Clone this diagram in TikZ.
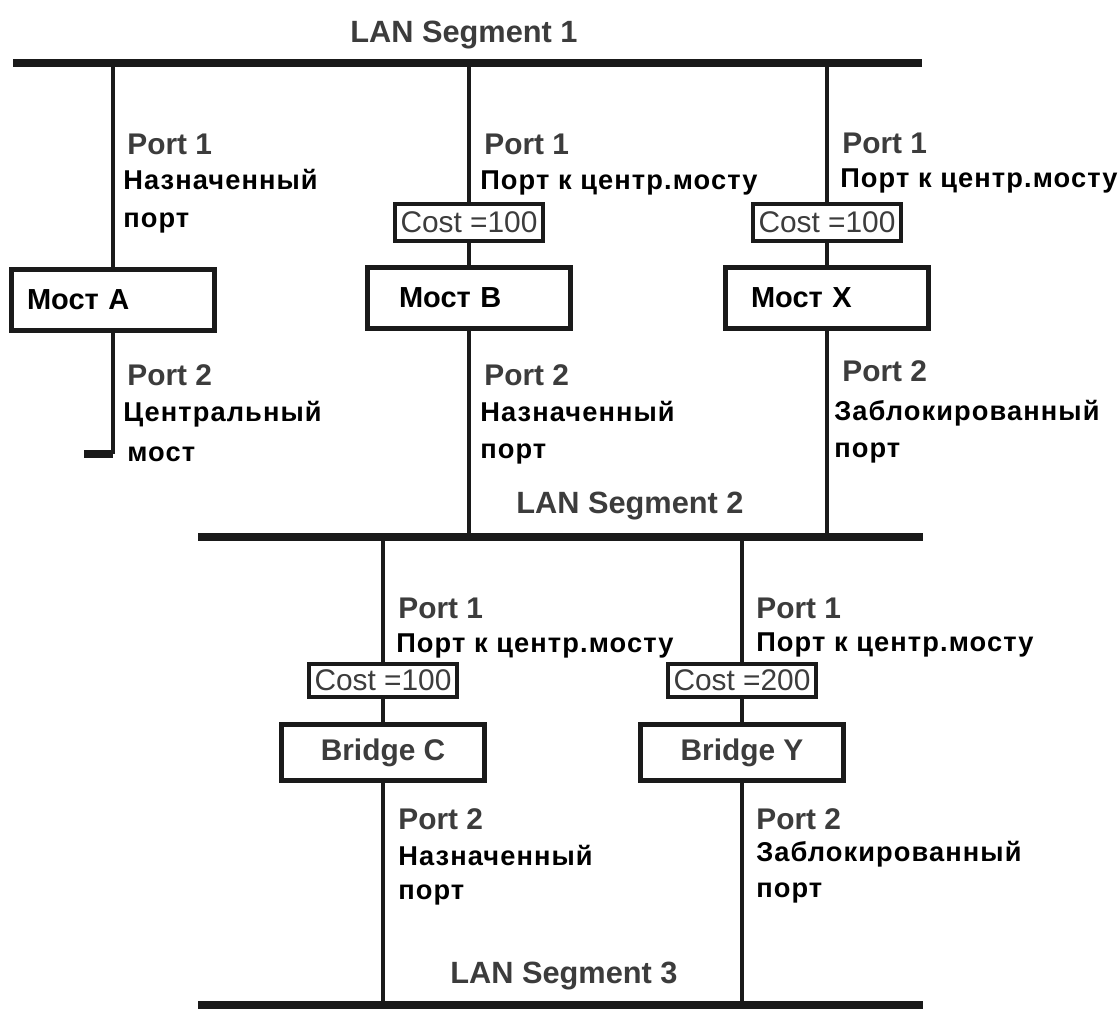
\documentclass[tikz,border=0pt]{standalone}
\usepackage{fontspec}
\setmainfont{Liberation Sans}
\newfontfamily\rufont[LetterSpace=4]{Liberation Sans}
\usetikzlibrary{positioning, calc}

\definecolor{linecol}{HTML}{1A1A1A}
\definecolor{textgray}{HTML}{3C3C3C}

\tikzset{
  segline/.style={line width=4pt, linecol},
  dropline/.style={line width=2.8pt, linecol},
  bridgebox/.style={draw=linecol, line width=2.8pt, minimum width=4.06cm, minimum height=1.22cm, inner ysep=0pt},
  mostname/.style={font=\fontsize{16.5}{18}\selectfont\bfseries, align=left},
  bridgename/.style={font=\fontsize{17}{19}\selectfont\bfseries, text=textgray, minimum height=1.12cm},
  costbox/.style={draw=linecol, line width=2.3pt, minimum width=2.96cm, minimum height=0.74cm, inner sep=0pt, font=\fontsize{17}{19}\selectfont, text=textgray},
  portlbl/.style={anchor=base west, inner sep=0pt, font=\fontsize{17}{19}\selectfont\bfseries, text=textgray},
  rulbl/.style={anchor=base west, inner sep=0pt, font=\rufont\bfseries\fontsize{15.5}{17}\selectfont},
  seglbl/.style={anchor=base west, inner sep=0pt, font=\fontsize{17.5}{19}\selectfont\bfseries, text=textgray}
}

\begin{document}
\begin{tikzpicture}[x=0.02cm, y=-0.02cm]
    \useasboundingbox (0,0) rectangle (1120,1011);

    % LAN segments
    \coordinate (s1w) at (13,63);   \coordinate (s1e) at (922,63);
    \coordinate (s2w) at (198,537); \coordinate (s2e) at (923,537);
    \coordinate (s3w) at (198,1005); \coordinate (s3e) at (923,1005);
    \draw[segline] (s1w) -- (s1e);
    \draw[segline] (s2w) -- (s2e);
    \draw[segline] (s3w) -- (s3e);
    \node[seglbl] (seg1) at (350,42) {LAN Segment 1};
    \node[seglbl] (seg2) at (516,513) {LAN Segment 2};
    \node[seglbl] (seg3) at (450,983) {LAN Segment 3};

    % taps on the segments
    \coordinate (tapA) at (113,63);
    \coordinate (tapB1) at (469,63);  \coordinate (tapB2) at (469,537);
    \coordinate (tapX1) at (827,63);  \coordinate (tapX2) at (827,537);
    \coordinate (tapC1) at (383,537); \coordinate (tapC2) at (383,1005);
    \coordinate (tapY1) at (742,537); \coordinate (tapY2) at (742,1005);
    \coordinate (endA) at (113,454);  \coordinate (stubA) at (84,454);

    % bridges and costs
    \node[bridgebox, mostname, inner xsep=0.31cm, text width=3.44cm] (mostA) at (113,300) {Мост A};
    \node[bridgebox, mostname, inner xsep=0.63cm, text width=2.8cm] (mostB) at (469,298) {Мост B};
    \node[bridgebox, mostname, inner xsep=0.51cm, text width=3.04cm] (mostX) at (827,298) {Мост X};
    \node[bridgebox, bridgename] (bridgeC) at (383,752.5) {Bridge C};
    \node[bridgebox, bridgename] (bridgeY) at (742,752.5) {Bridge Y};

    \node[costbox] (costB) at (469,222.5) {Cost =100};
    \node[costbox] (costX) at (827,222.5) {Cost =100};
    \node[costbox, minimum height=0.66cm] (costC) at (383,680.5) {Cost =100};
    \node[costbox, minimum height=0.66cm] (costY) at (742,680.5) {Cost =200};

    % links
    \draw[dropline] (tapA) -- (mostA.north);
    \draw[dropline] (mostA.south) -- (endA);
    \draw[segline] (stubA) -- (endA);
    \draw[dropline] (tapB1) -- (costB.north);
    \draw[dropline] (costB.south) -- (mostB.north);
    \draw[dropline] (mostB.south) -- (tapB2);
    \draw[dropline] (tapX1) -- (costX.north);
    \draw[dropline] (costX.south) -- (mostX.north);
    \draw[dropline] (mostX.south) -- (tapX2);
    \draw[dropline] (tapC1) -- (costC.north);
    \draw[dropline] (costC.south) -- (bridgeC.north);
    \draw[dropline] (bridgeC.south) -- (tapC2);
    \draw[dropline] (tapY1) -- (costY.north);
    \draw[dropline] (costY.south) -- (bridgeY.north);
    \draw[dropline] (bridgeY.south) -- (tapY2);

    % port labels of bridge A
    \node[portlbl] (a1) at (127,154) {Port 1};
    \node[rulbl] (a1r) at (123,189) {Назначенный};
    \node[rulbl] (a1p) at (123,227) {порт};
    \node[portlbl] (a2) at (127,385) {Port 2};
    \node[rulbl] (a2r) at (123,421) {Центральный};
    \node[rulbl] (a2p) at (127,461) {мост};

    % port labels of bridge B
    \node[portlbl] (b1) at (484,154) {Port 1};
    \node[rulbl] (b1r) at (480,189) {Порт к центр.мосту};
    \node[portlbl] (b2) at (484,385) {Port 2};
    \node[rulbl] (b2r) at (480,421) {Назначенный};
    \node[rulbl] (b2p) at (480,458) {порт};

    % port labels of bridge X
    \node[portlbl] (x1) at (842,153) {Port 1};
    \node[rulbl] (x1r) at (840,187) {Порт к центр.мосту};
    \node[portlbl] (x2) at (842,381) {Port 2};
    \node[rulbl] (x2r) at (834,420) {Заблокированный};
    \node[rulbl] (x2p) at (834,457) {порт};

    % port labels of bridge C
    \node[portlbl] (c1) at (398,618) {Port 1};
    \node[rulbl] (c1r) at (396,652) {Порт к центр.мосту};
    \node[portlbl] (c2) at (398,829) {Port 2};
    \node[rulbl] (c2r) at (398,865) {Назначенный};
    \node[rulbl] (c2p) at (398,899) {порт};

    % port labels of bridge Y
    \node[portlbl] (y1) at (756,618) {Port 1};
    \node[rulbl] (y1r) at (756,651) {Порт к центр.мосту};
    \node[portlbl] (y2) at (756,829) {Port 2};
    \node[rulbl] (y2r) at (756,861) {Заблокированный};
    \node[rulbl] (y2p) at (756,897) {порт};
  \end{tikzpicture}
\end{document}
